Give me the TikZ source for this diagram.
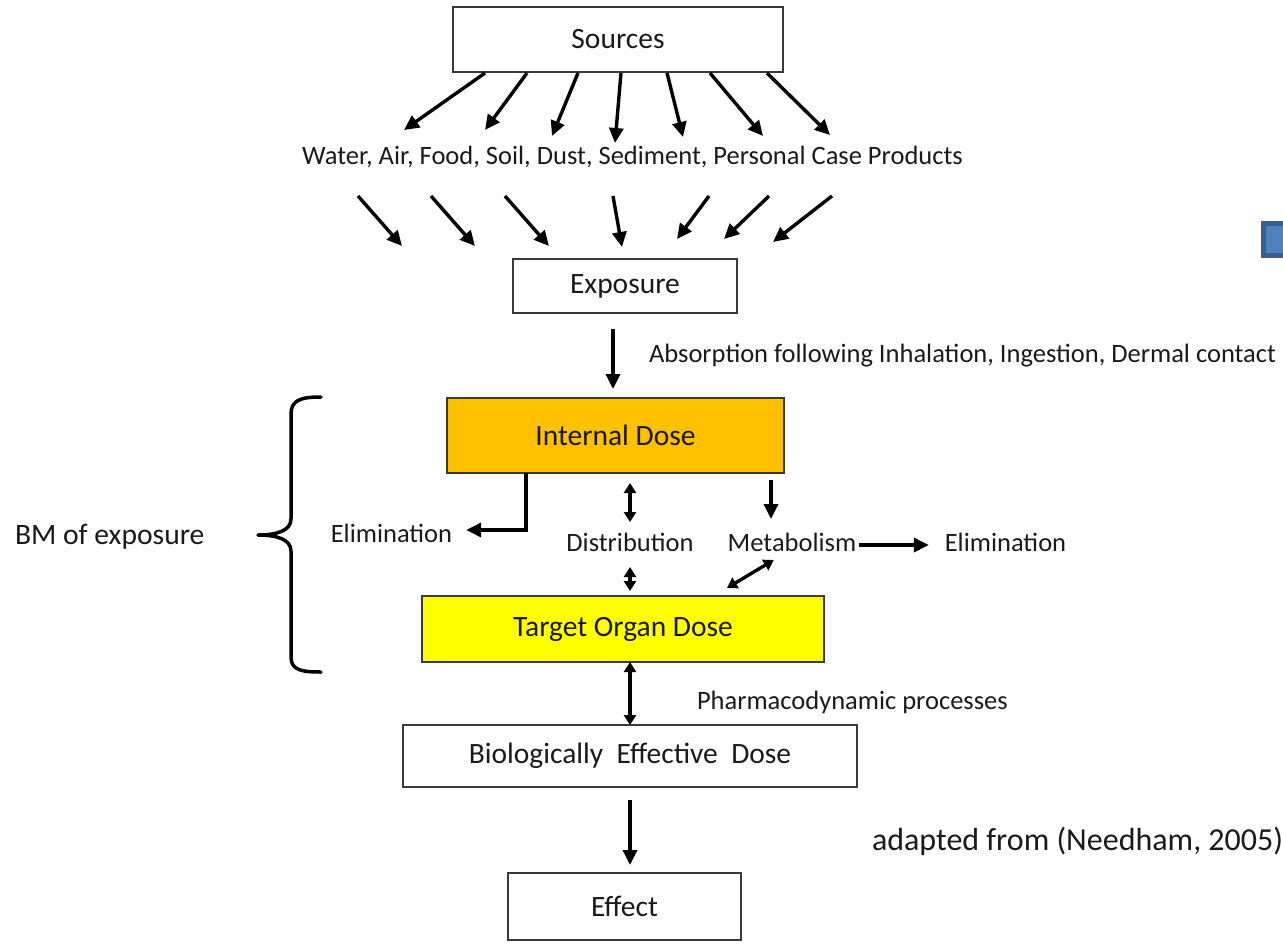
\documentclass[tikz,border=0pt]{standalone}
\usepackage{fontspec}
\setmainfont{Carlito}
\usetikzlibrary{arrows.meta,calc}

\definecolor{ink}{HTML}{1A1A1A}
\definecolor{boxline}{HTML}{3A3A3A}
\definecolor{internalfill}{HTML}{FFC000}
\definecolor{targetfill}{HTML}{FFFF00}
\definecolor{tabedge}{HTML}{3A5F8E}
\definecolor{tabfill}{HTML}{4F81BD}

\tikzset{
  box/.style={draw=boxline, line width=1.5pt, inner sep=0pt, outer sep=0pt,
    font=\fontsize{29.5}{32}\selectfont, text=ink},
  lbl/.style={inner sep=0pt, outer sep=0pt, font=\fontsize{26.5}{30}\selectfont,
    text height=19pt, text depth=5pt, text=ink},
  arr/.style={draw=black, line width=3.4pt, -{Triangle[length=15pt,width=14pt]}},
  dbl/.style={draw=black, line width=3.4pt,
    {Triangle[length=10pt,width=12pt]}-{Triangle[length=10pt,width=12pt]}},
}

\begin{document}
\begin{tikzpicture}[x=1pt,y=-1pt]
  \path[use as bounding box] (0,0) rectangle (1283,943);
  \clip (0,0) rectangle (1283,943);

  % boxes of the chain
  \node[box, minimum width=330, minimum height=65] (src) at (618,39.5) {Sources};
  \node[box, minimum width=224, minimum height=54] (expo) at (625,286) {Exposure};
  \node[box, fill=internalfill, minimum width=337, minimum height=75] (intd) at (615.5,435.5) {Internal Dose};
  \node[box, fill=targetfill, minimum width=402, minimum height=66] (tod) at (623,629) {Target Organ Dose};
  \node[box, minimum width=454, minimum height=62] (bed) at (630,756) {Biologically\ \ Effective\ \ Dose};
  \node[box, minimum width=233, minimum height=67] (eff) at (624.5,906.5) {Effect};

  % labels
  \node[lbl] (items) at (632.5,157) {Water, Air, Food, Soil, Dust, Sediment, Personal Case Products};
  \node[lbl, anchor=west] (absorb) at (649,355) {Absorption following Inhalation, Ingestion, Dermal contact};
  \node[lbl] (elimL) at (391.5,535) {Elimination};
  \node[lbl] (dist) at (630,544) {Distribution};
  \node[lbl] (metab) at (792,544) {Metabolism};
  \node[lbl] (elimR) at (1005.5,544) {Elimination};
  \node[lbl, anchor=west] (pharm) at (697,702) {Pharmacodynamic processes};
  \node[lbl, anchor=west, font=\fontsize{32}{36}\selectfont, text height=23pt, text depth=6pt] (adapted) at (872,842) {adapted from (Needham, 2005)};
  \node[lbl, anchor=west, font=\fontsize{29.6}{34}\selectfont, text height=21pt, text depth=6pt] (bm) at (15,537) {BM of exposure};

  % sources fan out to the media
  \foreach \dx/\ex/\ey [count=\i] in {32/404/130, 74/485/130, 125/552/136, 168/615/143,
                                      214/683/137, 257/763/136, 314/830/135} {
    \coordinate (m\i) at (\ex,\ey);
    \draw[arr] ($(src.south west)+(\dx,1)$) -- (m\i);
  }

  % media converge on exposure
  \foreach \sx/\sy/\ex/\ey [count=\i] in {358/196/402/246, 431/196/475/246, 505/196/549/246,
                                          613/196/622/247, 709/196/677/239, 769/196/724/239,
                                          832/196/773/242} {
    \coordinate (e\i) at (\sx,\sy);
    \coordinate (f\i) at (\ex,\ey);
    \draw[arr] (e\i) -- (f\i);
  }

  % absorption
  \draw[arr] ($(expo.south)+(-12,16)$) -- ($(intd.north)+(-2.5,-9)$);

  % elimination from the internal dose
  \draw[arr] ($(intd.south west)+(79,0)$) |- ($(elimL.east)+(14,-5)$);

  % distribution
  \draw[dbl] ($(intd.south -| dist.north)+(0,10)$) -- ($(dist.north)+(0,-10)$);
  \draw[dbl] ($(dist.south)+(0,11)$) -- ($(tod.north -| dist.south)+(0,-5)$);

  % metabolism
  \coordinate (mtop) at ($(intd.south west)+(324,7)$);
  \draw[arr] (mtop) -- ($(mtop |- metab.north)+(0,-13)$);
  \draw[arr] ($(metab.east)+(3,1)$) -- ($(elimR.west)+(-16,1)$);
  \draw[dbl] ($(tod.north west)+(305,-8)$) -- ($(metab.south west)+(46,4)$);

  % pharmacodynamics and effect
  \draw[dbl] (tod.south -| bed.north) -- (bed.north);
  \draw[arr] ($(bed.south)+(0,13)$) -- ($(eff.north -| bed.south)+(0,-8)$);

  % brace grouping the biomarkers of exposure
  \draw[line width=3.5pt, line cap=round, line join=round]
    (321,397) .. controls (301,397) and (291,400) .. (291,414)
    -- (291,519) .. controls (291,531) and (276,535) .. (258,535)
    .. controls (276,535) and (291,539) .. (291,551)
    -- (291,657) .. controls (291,670) and (301,672) .. (321,672);

  % tab at the right edge
  \filldraw[fill=tabfill, draw=tabedge, line width=5pt] (1263.5,223.5) rectangle (1295,255.5);
\end{tikzpicture}
\end{document}
